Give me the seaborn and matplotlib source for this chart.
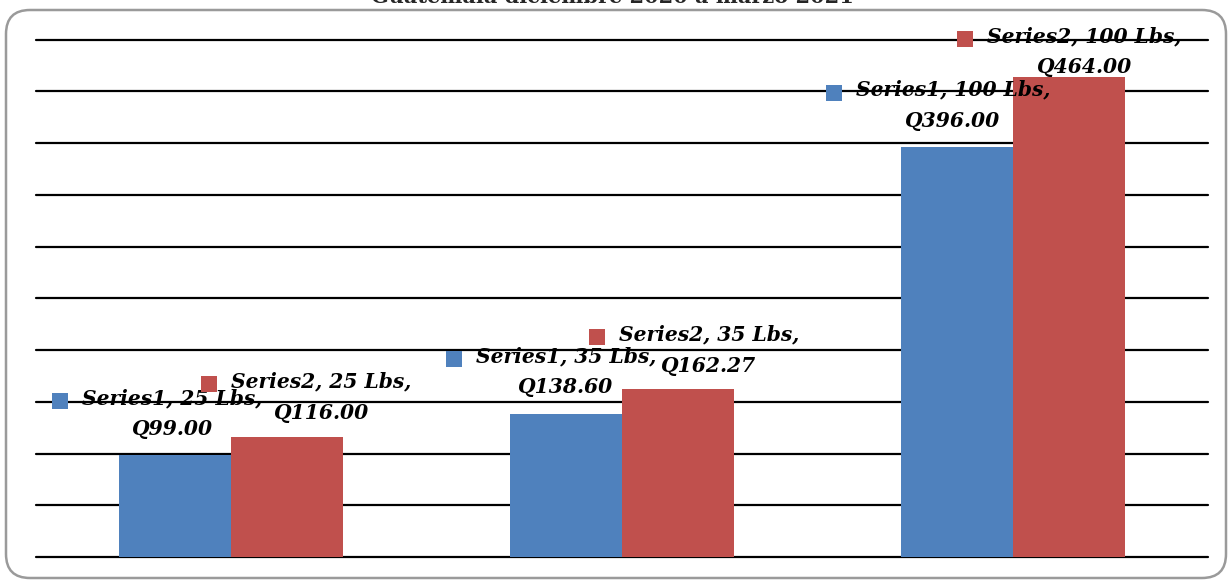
import matplotlib
matplotlib.use("Agg")
import matplotlib.pyplot as plt
from matplotlib.patches import FancyBboxPatch
from matplotlib.transforms import IdentityTransform
import seaborn as sns
import pandas as pd

# ---- data ----
sizes = ["25 Lbs", "35 Lbs", "100 Lbs"]
series_names = ["Series1", "Series2"]
series1 = [99.00, 138.60, 396.00]
series2 = [116.00, 162.27, 464.00]
title = "Guatemala diciembre 2020 a marzo 2021"

colors = ["#4F81BD", "#C0504D"]

df = pd.DataFrame({
    "size": sizes * 2,
    "value": series1 + series2,
    "series": [series_names[0]] * 3 + [series_names[1]] * 3,
})

sns.set_style("white")
W, H = 1229, 581
fig = plt.figure(figsize=(W / 100, H / 100), dpi=100)
ax = fig.add_axes([36 / W, 1 - 557 / H, (1208 - 36) / W, (557 - 39.5) / H])

sns.barplot(data=df, x="size", y="value", hue="series", palette=colors,
            width=0.573, gap=0, ax=ax, legend=False, zorder=3, saturation=1,
            errorbar=None, linewidth=0, edgecolor="none")

ax.set_xlim(-0.5, 2.5)
ax.set_ylim(0, 500)
ax.set_yticks(range(0, 501, 50))
ax.yaxis.grid(True, color="black", linewidth=1.6)
ax.set_axisbelow(True)
for gl in ax.get_ygridlines():
    gl.set_clip_on(False)
ax.tick_params(left=False, bottom=False, labelleft=False, labelbottom=False)
for s in ax.spines.values():
    s.set_visible(False)
ax.set_xlabel("")
ax.set_ylabel("")

# label offsets (pixels) relative to bar top-center
offsets = [[(-3, 41), (0, 42), (-4, 42)],
           [(34, 40), (31, 39), (16, 25)]]
font = dict(family="DejaVu Serif", weight="bold", style="italic", size=14.6)

texts = []
for si, cont in enumerate(ax.containers):
    vals = series1 if si == 0 else series2
    for ci, bar in enumerate(cont):
        xc = bar.get_x() + bar.get_width() / 2
        top = bar.get_height()
        label = f"{series_names[si]}, {sizes[ci]},\nQ{vals[ci]:.2f}"
        t = ax.annotate(label, xy=(xc, top), xytext=offsets[si][ci],
                        textcoords="offset pixels", ha="center", va="center",
                        multialignment="center", linespacing=1.7,
                        color="black", zorder=5, **font)
        texts.append((t, si))

fig.canvas.draw()
r = fig.canvas.get_renderer()
inv = ax.transData.inverted()
for t, si in texts:
    bb = t.get_window_extent(r)
    mx = bb.x0 - 22
    my = bb.y1 - 13
    dx, dy = inv.transform((mx, my))
    ax.scatter([dx], [dy], marker="s", s=130, color=colors[si], zorder=6,
               clip_on=False, linewidths=0)

# rounded border
border = FancyBboxPatch((6, 3), 1220, 568, boxstyle="round,pad=0,rounding_size=24",
                        transform=IdentityTransform(), fill=False,
                        edgecolor="#9a9a9a", linewidth=1.8)
fig.add_artist(border)

fig.text(612 / W, 1 - 3 / H, title, ha="center", va="baseline",
         family="DejaVu Serif", weight="bold", size=15)

fig.savefig("out.png", dpi=100)
